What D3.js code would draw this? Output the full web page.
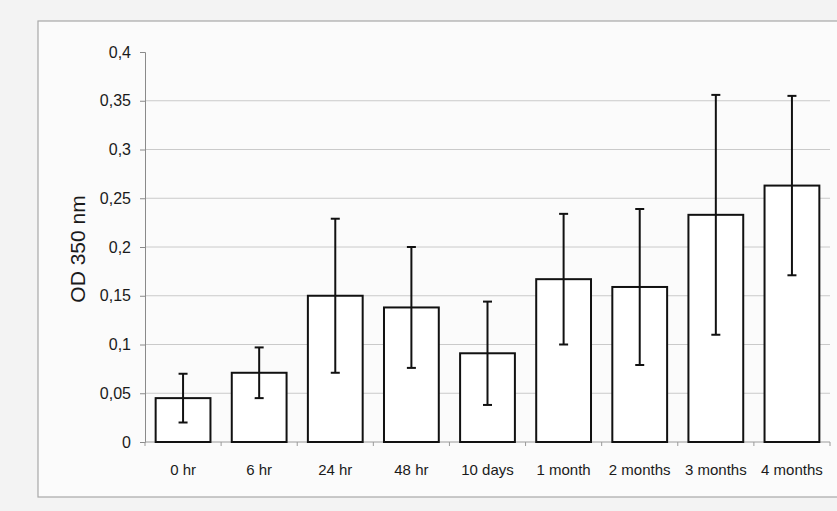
<!DOCTYPE html>
<html>
<head>
<meta charset="utf-8">
<script src="https://cdn.jsdelivr.net/npm/d3@7"></script>
<style>
  body { margin: 0; background: #f3f3f3; }
  svg { display: block; font-family: "Liberation Sans", Arial, sans-serif; }
</style>
</head>
<body>
<div id="chart-area"></div>
<script>
// data
var categories = ['0 hr', '6 hr', '24 hr', '48 hr', '10 days', '1 month', '2 months', '3 months', '4 months'];
var means = [0.045, 0.071, 0.150, 0.138, 0.091, 0.167, 0.159, 0.233, 0.263];
var errors = [0.025, 0.026, 0.079, 0.062, 0.053, 0.067, 0.080, 0.123, 0.092];
var yTicks = [0, 0.05, 0.1, 0.15, 0.2, 0.25, 0.3, 0.35, 0.4];

var W = 837, H = 511;
var plot = { left: 145, right: 830, top: 52, bottom: 442 };

var svg = d3.select('#chart-area')
  .append('svg')
  .attr('width', W)
  .attr('height', H);

// chart frame
svg.append('rect')
  .attr('x', 38).attr('y', 21)
  .attr('width', W + 10).attr('height', 476)
  .attr('fill', '#fbfbfb')
  .attr('stroke', '#a8a8a8')
  .attr('stroke-width', 1.2);

var x = d3.scaleBand()
  .domain(categories)
  .range([plot.left, plot.right])
  .paddingInner(0.28)
  .paddingOuter(0.14);

var y = d3.scaleLinear()
  .domain([0, 0.4])
  .range([plot.bottom, plot.top]);

var fmt = function(d) { return d === 0 ? '0' : String(d).replace('.', ','); };

// gridlines
svg.append('g')
  .selectAll('line')
  .data(yTicks.filter(d => d > 0 && d < 0.4))
  .enter().append('line')
    .attr('x1', plot.left).attr('x2', plot.right)
    .attr('y1', d => y(d)).attr('y2', d => y(d))
    .attr('stroke', '#cacaca')
    .attr('stroke-width', 1);

// y axis
var yAxis = d3.axisLeft(y).tickValues(yTicks).tickFormat(fmt).tickSize(5).tickPadding(9);
var gy = svg.append('g')
  .attr('transform', 'translate(' + plot.left + ',0)')
  .call(yAxis);
gy.select('.domain').attr('stroke', '#8a8a8a');
gy.selectAll('.tick line').attr('stroke', '#8a8a8a');
gy.selectAll('.tick text')
  .attr('font-size', '16px')
  .attr('fill', '#1a1a1a');

// x axis
var xEdge = d3.scaleLinear().domain([0, categories.length]).range([plot.left, plot.right]);
svg.append('line')
  .attr('x1', plot.left).attr('x2', plot.right)
  .attr('y1', plot.bottom).attr('y2', plot.bottom)
  .attr('stroke', '#9a9a9a');
svg.append('g')
  .selectAll('line')
  .data(d3.range(categories.length + 1))
  .enter().append('line')
    .attr('x1', d => xEdge(d)).attr('x2', d => xEdge(d))
    .attr('y1', plot.bottom).attr('y2', plot.bottom + 4)
    .attr('stroke', '#9a9a9a');

svg.append('g')
  .selectAll('text')
  .data(categories)
  .enter().append('text')
    .attr('x', d => x(d) + x.bandwidth() / 2)
    .attr('y', 475)
    .attr('text-anchor', 'middle')
    .attr('font-size', '15px')
    .attr('fill', '#1a1a1a')
    .text(d => d);

// y label
svg.append('text')
  .attr('transform', 'translate(85,249) rotate(-90)')
  .attr('text-anchor', 'middle')
  .attr('font-size', '21px')
  .attr('fill', '#1a1a1a')
  .text('OD 350 nm');

// bars
svg.append('g')
  .selectAll('rect')
  .data(means)
  .enter().append('rect')
    .attr('x', (d, i) => x(categories[i]))
    .attr('y', d => y(d))
    .attr('width', x.bandwidth())
    .attr('height', d => y(0) - y(d))
    .attr('fill', '#fff')
    .attr('stroke', '#111')
    .attr('stroke-width', 2);

// error bars
var eb = svg.append('g')
  .selectAll('g')
  .data(means)
  .enter().append('g')
    .attr('stroke', '#111')
    .attr('stroke-width', 2);

eb.append('line')
  .attr('x1', (d, i) => x(categories[i]) + x.bandwidth() / 2)
  .attr('x2', (d, i) => x(categories[i]) + x.bandwidth() / 2)
  .attr('y1', (d, i) => y(d + errors[i]))
  .attr('y2', (d, i) => y(d - errors[i]));

eb.append('line')
  .attr('x1', (d, i) => x(categories[i]) + x.bandwidth() / 2 - 4.5)
  .attr('x2', (d, i) => x(categories[i]) + x.bandwidth() / 2 + 4.5)
  .attr('y1', (d, i) => y(d + errors[i]))
  .attr('y2', (d, i) => y(d + errors[i]));

eb.append('line')
  .attr('x1', (d, i) => x(categories[i]) + x.bandwidth() / 2 - 4.5)
  .attr('x2', (d, i) => x(categories[i]) + x.bandwidth() / 2 + 4.5)
  .attr('y1', (d, i) => y(d - errors[i]))
  .attr('y2', (d, i) => y(d - errors[i]));
</script>
</body>
</html>
